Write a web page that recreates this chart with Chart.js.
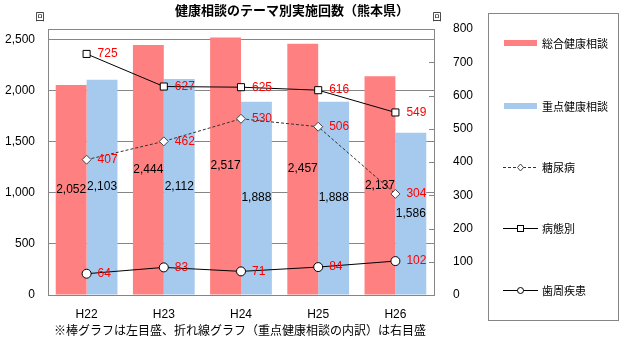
<!DOCTYPE html>
<html>
<head>
<meta charset="utf-8">
<script src="https://cdn.jsdelivr.net/npm/chart.js@4"></script>
<style>
  body { margin: 0; background: #fff; }
  #wrap { width: 623px; height: 343px; }
</style>
</head>
<body>
<div id="wrap"><canvas id="chart" width="623" height="343"></canvas></div>
<script>
// data
var years = ["H22", "H23", "H24", "H25", "H26"];
var sogo = [2052, 2444, 2517, 2457, 2137];      // 総合健康相談 (left)
var juten = [2103, 2112, 1888, 1888, 1586];     // 重点健康相談 (left)
var tonyo = [407, 462, 530, 506, 304];          // 糖尿病 (right)
var byotai = [725, 627, 625, 616, 549];         // 病態別 (right)
var shishu = [64, 83, 71, 84, 102];             // 歯周疾患 (right)
var leftTicks = [0, 500, 1000, 1500, 2000, 2500];
var rightTicks = [0, 100, 200, 300, 400, 500, 600, 700, 800];

var title = "健康相談のテーマ別実施回数（熊本県）";
var note = "※棒グラフは左目盛、折れ線グラフ（重点健康相談の内訳）は右目盛";

var numFont = "'Liberation Sans', Arial, sans-serif";
var jpFont = "'Noto Sans CJK JP', sans-serif";
var gridColor = "#868686";

function fmt(v){
    return v.toLocaleString("en-US");
}

// title, frame, labels, legend
var extras = {
    id: "extras",
    beforeDatasetsDraw: function(chart){
        var c = chart.ctx, a = chart.chartArea;
        c.save();
        c.strokeStyle = gridColor;
        c.lineWidth = 1;
        c.strokeRect(Math.round(a.left) + 0.5, Math.round(a.top) + 0.5,
            Math.round(a.right - a.left), Math.round(a.bottom - a.top));
        // right axis tick marks, inward
        var y1 = chart.scales.y1;
        rightTicks.forEach(function(t){
            var y = Math.round(y1.getPixelForValue(t)) + 0.5;
            c.beginPath();
            c.moveTo(a.right - 5, y);
            c.lineTo(a.right, y);
            c.stroke();
        });
        c.restore();
    },
    afterDatasetsDraw: function(chart){
        var c = chart.ctx;
        c.save();
        c.font = "12px " + numFont;
        c.textBaseline = "middle";
        chart.data.datasets.forEach(function(ds, i){
            var meta = chart.getDatasetMeta(i);
            meta.data.forEach(function(el, j){
                if(ds.type == "bar"){
                    c.fillStyle = "#000";
                    c.textAlign = "center";
                    c.fillText(fmt(ds.data[j]), el.x, (el.y + el.base) / 2);
                }else{
                    c.fillStyle = "#ff0000";
                    c.textAlign = "left";
                    c.fillText(fmt(ds.data[j]), el.x + 11, el.y);
                }
            });
        });
        c.restore();
    },
    afterDraw: function(chart){
        var c = chart.ctx;
        c.save();
        c.fillStyle = "#000";
        c.textBaseline = "middle";
        c.textAlign = "center";
        c.font = "bold 13px " + jpFont;
        c.fillText(title, 292, 10);
        c.font = "9px " + jpFont;
        c.fillText("回", 40, 17);
        c.fillText("回", 437, 17);
        c.font = "12px " + jpFont;
        c.fillText(note, 240, 330);

        // legend
        c.strokeStyle = gridColor;
        c.lineWidth = 1;
        c.strokeRect(488.5, 13.5, 130, 307);
        var rows = [43, 106, 167, 228, 290];
        var order = [3, 4, 0, 1, 2];
        c.font = "11px " + jpFont;
        c.textAlign = "left";
        order.forEach(function(di, k){
            var ds = chart.data.datasets[di];
            var y = rows[k];
            if(ds.type == "bar"){
                c.fillStyle = ds.backgroundColor;
                c.fillRect(504, y - 3, 33, 6);
            }else{
                c.save();
                c.strokeStyle = ds.borderColor;
                c.lineWidth = 1;
                c.setLineDash(ds.borderDash || []);
                c.beginPath();
                c.moveTo(503, y + 0.5);
                c.lineTo(538, y + 0.5);
                c.stroke();
                c.setLineDash([]);
                c.fillStyle = "#fff";
                c.strokeStyle = ds.pointBorderColor;
                if(ds.pointStyle == "rect"){
                    c.fillRect(517, y - 3, 6, 6);
                    c.strokeRect(517.5, y - 2.5, 6, 6);
                }else if(ds.pointStyle == "rectRot"){
                    c.beginPath();
                    c.moveTo(520.5, y - 3); c.lineTo(523.5, y + 0.5);
                    c.lineTo(520.5, y + 4); c.lineTo(517.5, y + 0.5);
                    c.closePath(); c.fill(); c.stroke();
                }else{
                    c.beginPath();
                    c.arc(520.5, y + 0.5, 3, 0, Math.PI * 2);
                    c.fill(); c.stroke();
                }
                c.restore();
            }
            c.fillStyle = "#000";
            c.fillText(ds.label, 542, y + 1);
        });
        c.restore();
    }
};

var lineBase = {
    type: "line",
    yAxisID: "y1",
    borderColor: "#000",
    borderWidth: 1,
    pointBackgroundColor: "#fff",
    pointBorderColor: "#000",
    pointBorderWidth: 1,
    pointRadius: 4,
    tension: 0,
    order: 0
};

var ctx = document.getElementById("chart").getContext("2d");
var myChart = new Chart(ctx, {
    data: {
        labels: years,
        datasets: [
            Object.assign({}, lineBase, { label: "糖尿病", data: tonyo, pointStyle: "rectRot",
                borderDash: [3, 2], borderColor: "#333", pointBorderColor: "#444", pointRadius: 4.5 }),
            Object.assign({}, lineBase, { label: "病態別", data: byotai, pointStyle: "rect", pointRadius: 5 }),
            Object.assign({}, lineBase, { label: "歯周疾患", data: shishu, pointStyle: "circle", pointRadius: 4.5 }),
            {
                type: "bar", label: "総合健康相談", data: sogo, yAxisID: "y",
                backgroundColor: "rgb(255,128,128)", barPercentage: 1, categoryPercentage: 0.8, order: 1
            },
            {
                type: "bar", label: "重点健康相談", data: juten, yAxisID: "y",
                backgroundColor: "rgb(166,202,238)", barPercentage: 1, categoryPercentage: 0.8, order: 1
            }
        ]
    },
    options: {
        responsive: false,
        animation: false,
        layout: { padding: { left: 0, right: 135, top: 29, bottom: 0 } },
        plugins: { legend: { display: false }, tooltip: { enabled: false } },
        scales: {
            x: {
                grid: { display: false },
                border: { display: false },
                ticks: { color: "#000", font: { family: numFont, size: 12 }, padding: 4 },
                afterFit: function(s){ s.height = 48; }
            },
            y: {
                position: "left",
                min: 0, max: 2600,
                afterBuildTicks: function(s){
                    s.ticks = leftTicks.map(function(v){ return { value: v }; });
                },
                grid: { color: gridColor, drawTicks: false },
                border: { display: false },
                ticks: { color: "#000", font: { family: numFont, size: 12 }, padding: 13,
                    callback: function(v){ return fmt(v); } },
                afterFit: function(s){ s.width = 48; }
            },
            y1: {
                position: "right",
                min: 0, max: 800,
                afterBuildTicks: function(s){
                    s.ticks = rightTicks.map(function(v){ return { value: v }; });
                },
                grid: { display: false },
                border: { display: false },
                ticks: { color: "#000", font: { family: numFont, size: 12 }, padding: 11 },
                afterFit: function(s){ s.width = 54; }
            }
        }
    },
    plugins: [extras]
});
</script>
</body>
</html>
